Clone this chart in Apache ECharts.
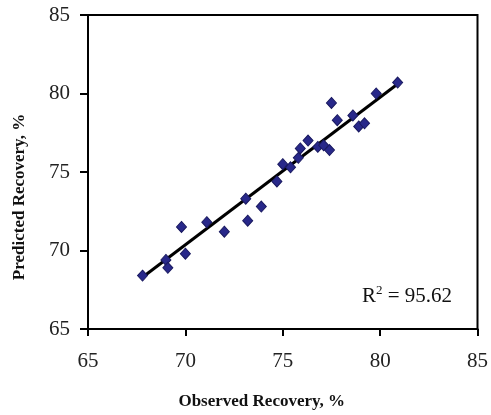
<!DOCTYPE html>
<html>
<head>
<meta charset="utf-8">
<script src="https://cdn.jsdelivr.net/npm/echarts@6/dist/echarts.min.js"></script>
<style>
  html, body { margin: 0; padding: 0; background: #fff; }
  #chart { width: 491px; height: 415px; }
</style>
</head>
<body>
<div id="chart"></div>
<script>
// observed vs predicted recovery, %
var observed = [67.8, 69.0, 69.1, 69.8, 70.0, 71.1, 72.0, 73.1, 73.2, 73.9, 74.7, 75.0, 75.4,
  75.8, 75.9, 76.3, 76.8, 77.1, 77.4, 77.5, 77.8, 78.6, 78.9, 79.2, 79.8, 80.9];
var predicted = [68.4, 69.4, 68.9, 71.5, 69.8, 71.8, 71.2, 73.3, 71.9, 72.8, 74.4, 75.5, 75.3,
  75.9, 76.5, 77.0, 76.6, 76.7, 76.4, 79.4, 78.3, 78.6, 77.9, 78.1, 80.0, 80.7];
// fitted line end points
var fitX = [67.8, 81.0];
var fitY = [68.3, 80.7];
var axisTicks = [65, 70, 75, 80, 85];
var r2Label = "95.62";

var points = observed.map(function (x, i) { return [x, predicted[i]]; });
var fitLine = fitX.map(function (x, i) { return [x, fitY[i]]; });

var chart = echarts.init(document.getElementById("chart"));
var serif = "Liberation Serif";

chart.setOption({
  animation: false,
  grid: {
    left: 88,
    right: 12,
    top: 15,
    bottom: 85,
    show: true,
    borderColor: "#000",
    borderWidth: 2,
  },
  xAxis: {
    type: "value",
    min: axisTicks[0],
    max: axisTicks[axisTicks.length - 1],
    interval: 5,
    name: "Observed Recovery, %",
    nameLocation: "middle",
    nameGap: 64,
    nameTextStyle: {
      fontFamily: serif,
      fontWeight: "bold",
      fontSize: 17,
      color: "#111",
      padding: [0, 42, 0, 0],
    },
    axisLine: { onZero: false, lineStyle: { color: "#000", width: 2 } },
    axisTick: { show: true, length: 7, lineStyle: { color: "#000", width: 2 } },
    axisLabel: { fontFamily: serif, fontSize: 21, color: "#222", margin: 22 },
    splitLine: { show: false },
  },
  yAxis: {
    type: "value",
    min: axisTicks[0],
    max: axisTicks[axisTicks.length - 1],
    interval: 5,
    name: "Predicted Recovery, %",
    nameLocation: "middle",
    nameGap: 60,
    nameTextStyle: {
      fontFamily: serif,
      fontWeight: "bold",
      fontSize: 17,
      color: "#111",
      padding: [0, 50, 0, 0],
    },
    axisLine: { onZero: false, lineStyle: { color: "#000", width: 2 } },
    axisTick: { show: true, length: 8, lineStyle: { color: "#000", width: 2 } },
    axisLabel: { fontFamily: serif, fontSize: 21, color: "#222", margin: 18 },
    splitLine: { show: false },
  },
  graphic: [
    {
      type: "text",
      left: 362,
      top: 284,
      style: {
        text: "{a|R}{s|2}{a| = " + r2Label + "}",
        rich: {
          a: { fontFamily: serif, fontSize: 21, fill: "#111", verticalAlign: "bottom" },
          s: { fontFamily: serif, fontSize: 13, fill: "#111", verticalAlign: "top", padding: [0, 0, 10, 0] },
        },
      },
    },
  ],
  series: [
    {
      type: "line",
      data: fitLine,
      symbol: "none",
      lineStyle: { color: "#000", width: 3 },
      z: 1,
    },
    {
      type: "scatter",
      data: points,
      symbol: "diamond",
      symbolSize: [10, 11],
      itemStyle: { color: "#28288a", borderColor: "#1a1a60", borderWidth: 1, opacity: 1 },
      z: 2,
    },
  ],
});
</script>
</body>
</html>
